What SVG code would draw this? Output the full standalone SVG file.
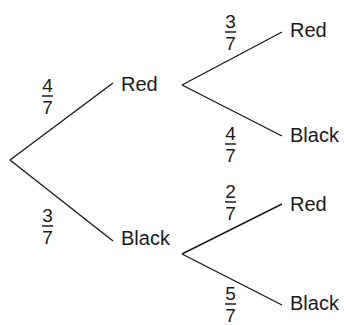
<svg xmlns="http://www.w3.org/2000/svg" width="344" height="325" viewBox="0 0 344 325">
<style>
.t{font-family:"Liberation Sans",Arial,sans-serif;font-size:20px;fill:#1a1a1a}
.d{font-family:"Liberation Sans",Arial,sans-serif;font-size:19px;fill:#1a1a1a;text-anchor:middle}
.e{stroke:#1a1a1a;stroke-width:1.4;fill:none}
.b{stroke:#1a1a1a;stroke-width:1.5}
</style>
<rect width="344" height="325" fill="#fff"/>
<g id="connectors">
<line class="e" x1="10" y1="160" x2="113" y2="83"/>
<line class="e" x1="10" y1="160" x2="113" y2="241"/>
<line class="e" x1="182" y1="85" x2="282" y2="32"/>
<line class="e" x1="182" y1="85" x2="282" y2="136"/>
<line class="e" x1="182" y1="254" x2="282" y2="204"/>
<line class="e" x1="182" y1="254" x2="282" y2="305"/>
</g>
<g id="label-4-7-a"><text class="d" x="47.5" y="92">4</text><line class="b" x1="42" y1="96" x2="53" y2="96"/><text class="d" x="47.5" y="114">7</text></g>
<g id="label-3-7-a"><text class="d" x="47.5" y="222">3</text><line class="b" x1="42" y1="226" x2="53" y2="226"/><text class="d" x="47.5" y="244">7</text></g>
<g id="label-3-7-b"><text class="d" x="230.5" y="28">3</text><line class="b" x1="225" y1="32" x2="236" y2="32"/><text class="d" x="230.5" y="50">7</text></g>
<g id="label-4-7-b"><text class="d" x="230.5" y="140">4</text><line class="b" x1="225" y1="144" x2="236" y2="144"/><text class="d" x="230.5" y="162">7</text></g>
<g id="label-2-7"><text class="d" x="230.5" y="198">2</text><line class="b" x1="225" y1="202" x2="236" y2="202"/><text class="d" x="230.5" y="220">7</text></g>
<g id="label-5-7"><text class="d" x="230.5" y="300">5</text><line class="b" x1="225" y1="304" x2="236" y2="304"/><text class="d" x="230.5" y="322">7</text></g>
<g id="node-red1"><text class="t" x="121" y="91">Red</text></g>
<g id="node-black1"><text class="t" x="121" y="245">Black</text></g>
<g id="node-red-red"><text class="t" x="290" y="37">Red</text></g>
<g id="node-red-black"><text class="t" x="290" y="142">Black</text></g>
<g id="node-black-red"><text class="t" x="290" y="211">Red</text></g>
<g id="node-black-black"><text class="t" x="290" y="310">Black</text></g>
</svg>
